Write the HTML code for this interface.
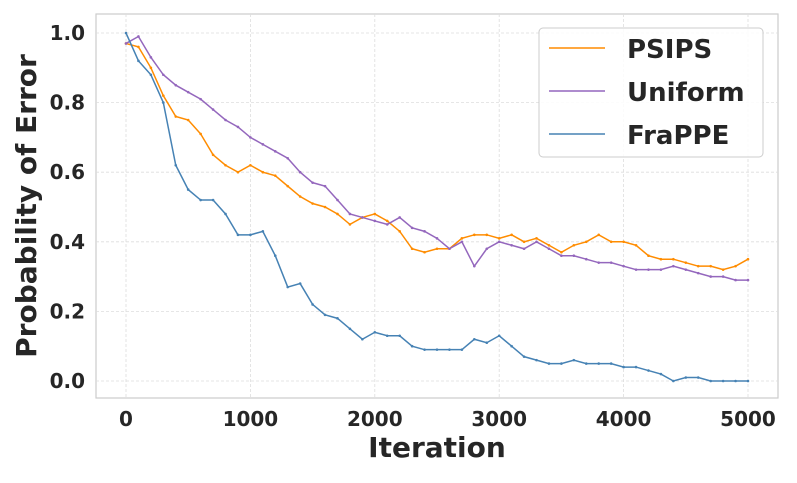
<!DOCTYPE html>
<html><head><meta charset="utf-8"><style>
body{margin:0;background:#fff;}
svg text{font-family:"DejaVu Sans","Liberation Sans",sans-serif;font-weight:bold;fill:#262626;}
</style></head><body>
<svg id="c" width="797" height="478" xmlns="http://www.w3.org/2000/svg">
<rect x="96" y="14" width="682" height="384" fill="#fff" stroke="#cccccc" stroke-width="1.2"/>
<g id="grid"></g><g id="ticks"></g><g id="series"></g>
<text x="437" y="457" font-size="28" text-anchor="middle">Iteration</text>
<text transform="translate(36,206) rotate(-90)" font-size="28" text-anchor="middle">Probability of Error</text>
<g>
<rect x="539" y="28" width="224" height="129" rx="4" fill="#fff" fill-opacity="0.85" stroke="#cccccc"/>
<g id="legend"></g>
</g>
</svg>
<script>
const iterations=[0,100,200,300,400,500,600,700,800,900,1000,1100,1200,1300,1400,1500,1600,1700,1800,1900,2000,2100,2200,2300,2400,2500,2600,2700,2800,2900,3000,3100,3200,3300,3400,3500,3600,3700,3800,3900,4000,4100,4200,4300,4400,4500,4600,4700,4800,4900,5000];
const psips=[0.97,0.96,0.9,0.82,0.76,0.75,0.71,0.65,0.62,0.6,0.62,0.6,0.59,0.56,0.53,0.51,0.5,0.48,0.45,0.47,0.48,0.46,0.43,0.38,0.37,0.38,0.38,0.41,0.42,0.42,0.41,0.42,0.4,0.41,0.39,0.37,0.39,0.4,0.42,0.4,0.4,0.39,0.36,0.35,0.35,0.34,0.33,0.33,0.32,0.33,0.35];
const uniform=[0.97,0.99,0.93,0.88,0.85,0.83,0.81,0.78,0.75,0.73,0.7,0.68,0.66,0.64,0.6,0.57,0.56,0.52,0.48,0.47,0.46,0.45,0.47,0.44,0.43,0.41,0.38,0.4,0.33,0.38,0.4,0.39,0.38,0.4,0.38,0.36,0.36,0.35,0.34,0.34,0.33,0.32,0.32,0.32,0.33,0.32,0.31,0.3,0.3,0.29,0.29];
const frappe=[1.0,0.92,0.88,0.8,0.62,0.55,0.52,0.52,0.48,0.42,0.42,0.43,0.36,0.27,0.28,0.22,0.19,0.18,0.15,0.12,0.14,0.13,0.13,0.1,0.09,0.09,0.09,0.09,0.12,0.11,0.13,0.1,0.07,0.06,0.05,0.05,0.06,0.05,0.05,0.05,0.04,0.04,0.03,0.02,0.0,0.01,0.01,0.0,0.0,0.0,0.0];
const xTicks=[0,1000,2000,3000,4000,5000];
const yTicks=[0.0,0.2,0.4,0.6,0.8,1.0];
const seriesNames=["PSIPS","Uniform","FraPPE"];
const NS="http://www.w3.org/2000/svg";
const X=v=>126+v*0.1244, Y=p=>381-p*348;
function mk(t,a,parent){const e=document.createElementNS(NS,t);for(const k in a)e.setAttribute(k,a[k]);parent.appendChild(e);return e;}
const grid=document.getElementById('grid'),ticks=document.getElementById('ticks'),ser=document.getElementById('series'),leg=document.getElementById('legend');
xTicks.forEach(v=>{
 const l=mk('line',{x1:X(v),x2:X(v),y1:14,y2:398,stroke:'#dddddd','stroke-dasharray':'3,2','stroke-width':0.8},grid);
 
 
 const t=mk('text',{x:X(v),y:426,'font-size':20,'text-anchor':'middle'},ticks);t.textContent=v;
 
 
});
yTicks.forEach(v=>{
 const l=mk('line',{x1:96,x2:778,y1:Y(v),y2:Y(v),stroke:'#dddddd','stroke-dasharray':'3,2','stroke-width':0.8},grid);
 
 
 const t=mk('text',{x:85,y:Y(v)+7,'font-size':20,'text-anchor':'end'},ticks);t.textContent=v.toFixed(1);
 
 
});
const colors=['#ff8c00','#9467bd','#4682b4'];
[psips,uniform,frappe].forEach((d,i)=>{
 const pts=d.map((p,j)=>X(iterations[j])+','+Y(p)).join(' ');
 const pl=mk('polyline',{points:pts,fill:'none',stroke:colors[i],'stroke-width':1.5},ser);
 
 
 d.forEach((p,j)=>{const c=mk('circle',{cx:X(iterations[j]),cy:Y(p),r:1.3,fill:colors[i]},ser);
  
  });
 const y=48+i*43;
 const ll=mk('line',{x1:549,x2:605,y1:y,y2:y,stroke:colors[i],'stroke-width':1.5},leg);
 
 
 const lt=mk('text',{x:627,y:y+10,'font-size':26},leg);lt.textContent=seriesNames[i];
 
 
});
</script>
</body></html>
